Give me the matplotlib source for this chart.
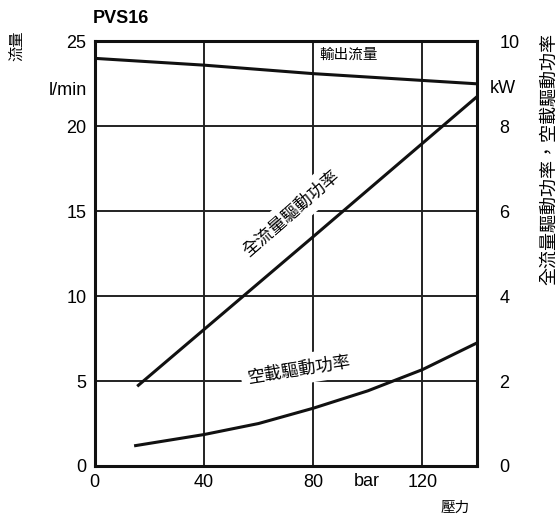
import matplotlib
matplotlib.use("Agg")
import matplotlib.pyplot as plt

plt.rcParams['font.family'] = ['Liberation Sans', 'Noto Sans CJK TC', 'DejaVu Sans']

# pressure (bar)
p_flow = [0, 40, 80, 140]
flow = [24.0, 23.6, 23.1, 22.5]  # l/min

p_full = [16, 80, 140]
full_kw = [1.9, 5.4, 8.7]

p_idle = [15, 40, 60, 80, 100, 120, 140]
idle_kw = [0.48, 0.74, 1.0, 1.36, 1.77, 2.27, 2.9]

x_ticks = [0, 40, 80, 120]
flow_ticks = [0, 5, 10, 15, 20, 25]
kw_ticks = [0, 2, 4, 6, 8, 10]

fig = plt.figure(figsize=(5.6, 5.21), dpi=100)
ax = fig.add_axes([0.169, 0.1056, 0.683, 0.815])
ax.set_xlim(0, 140)
ax.set_ylim(0, 25)
ax.set_xticks(x_ticks)
ax.set_yticks(flow_ticks)
ax.tick_params(length=0, labelsize=13, pad=6)
ax.grid(True, color='#222222', linewidth=1.4)
for s in ax.spines.values():
    s.set_linewidth(2.2)
    s.set_color('#111111')

ax.plot(p_flow, flow, color='#111111', linewidth=2.2, zorder=5)

ax2 = ax.twinx()
ax2.set_ylim(0, 10)
ax2.set_yticks(kw_ticks)
ax2.tick_params(length=0, labelsize=13, pad=16)
for s in ax2.spines.values():
    s.set_visible(False)
ax2.plot(p_full, full_kw, color='#111111', linewidth=2.2, zorder=5)
ax2.plot(p_idle, idle_kw, color='#111111', linewidth=2.2, zorder=5)

white = dict(facecolor='white', edgecolor='none', pad=5)
ax2.text(92.8, 9.68, '輸出流量', fontsize=10.5, ha='center', va='center', zorder=3)
ax2.text(72, 5.95, '全流量驅動功率', fontsize=12.5, rotation=41, ha='center', va='center',
         rotation_mode='anchor', bbox=white, zorder=3)
ax2.text(75, 2.28, '空載驅動功率', fontsize=12.5, rotation=9, ha='center', va='center',
         rotation_mode='anchor', bbox=white, zorder=3)

# units / axis titles
fig.text(0.215, 0.965, 'PVS16', fontsize=13, fontweight='bold', ha='center', va='center')
fig.text(0.032, 0.912, '流量', fontsize=11, rotation=90, ha='center', va='center')
fig.text(0.155, 0.827, 'l/min', fontsize=13, ha='right', va='center')
fig.text(0.898, 0.831, 'kW', fontsize=13, ha='center', va='center')
fig.text(0.655, 0.075, 'bar', fontsize=13, ha='center', va='center')
fig.text(0.812, 0.025, '壓力', fontsize=10.5, ha='center', va='center')
fig.text(0.982, 0.695, '全流量驅動功率，空載驅動功率', fontsize=13, rotation=90,
         ha='center', va='center')

fig.savefig('out.png', dpi=100)
